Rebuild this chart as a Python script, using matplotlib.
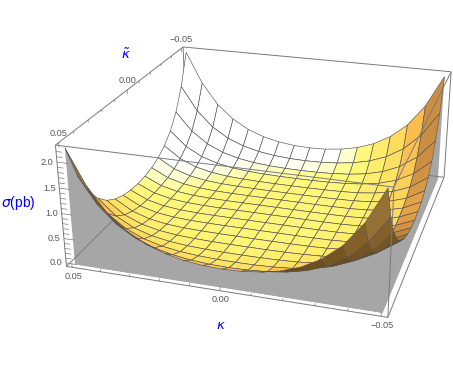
import numpy as np
import matplotlib
matplotlib.use('Agg')
import matplotlib.pyplot as plt
from mpl_toolkits.mplot3d import proj3d
from mpl_toolkits.mplot3d.art3d import Poly3DCollection

W, H = 453, 371
plt.rcParams['font.family'] = ['Liberation Sans', 'DejaVu Sans']
plt.rcParams['mathtext.fontset'] = 'dejavusans'

kappa_quarter = [0.00, 0.00625, 0.0125, 0.01875, 0.025, 0.03125, 0.0375, 0.04375, 0.05]
sigma_quarter = [
 [0.000,0.000,0.000,0.000,0.005,0.020,0.057,0.138,0.300],
 [0.000,0.000,0.000,0.001,0.006,0.022,0.061,0.147,0.314],
 [0.000,0.000,0.000,0.003,0.010,0.030,0.077,0.174,0.358],
 [0.000,0.001,0.003,0.008,0.020,0.048,0.108,0.226,0.439],
 [0.005,0.006,0.010,0.020,0.040,0.083,0.164,0.314,0.573],
 [0.020,0.022,0.030,0.048,0.083,0.147,0.261,0.457,0.781],
 [0.057,0.061,0.077,0.108,0.164,0.261,0.422,0.683,1.090],
 [0.138,0.147,0.174,0.226,0.314,0.457,0.683,1.030,1.560],
 [0.300,0.314,0.358,0.439,0.573,0.781,1.090,1.560,2.240],
]
ticks_k = [0.05, 0.00, -0.05]
ticks_z = [0.0, 0.5, 1.0, 1.5, 2.0]
xlo, xhi = -0.052, 0.052
zlo, zhi = -0.07, 2.32

fig = plt.figure(figsize=(W/100, H/100), dpi=100)
ax = fig.add_axes([0, 0, H/W, 1], projection='3d')
ax.set_xlim(xlo, xhi); ax.set_ylim(xlo, xhi); ax.set_zlim(zlo, zhi)
ax.set_axis_off()
ax.computed_zorder = False

pts3 = np.array([[xhi,xhi,zlo],[xhi,xhi,zhi],[xlo,xhi,zlo],[xlo,xhi,zhi],[xlo,xlo,zlo],[xlo,xlo,zhi],[xhi,xlo,zhi]]).T
pix = np.array([[66,266],[56,145],[390,318],[392,187],[443,177],[452,72],[183,47]],float)

p = np.array([23.475, 107.538, 0.230, 0.451, 0.402])
ax.view_init(p[0], p[1], p[2])
ax.set_proj_type('persp', focal_length=p[3])
ax.set_box_aspect((1,1,p[4]))

# place the axes so the box corners land where they do in the picture
xs, ys, _ = proj3d.proj_transform(pts3[0], pts3[1], pts3[2], ax.get_proj())
n = len(xs)
A = np.zeros((2*n,3)); b = np.zeros(2*n)
A[:n,0] = 1; A[:n,2] = xs; b[:n] = pix[:,0]
A[n:,1] = 1; A[n:,2] = -ys; b[n:] = pix[:,1]
a0, b0, s = np.linalg.lstsq(A, b, rcond=None)[0]
ax.apply_aspect()
p0, p1 = ax.transData.transform([[0,0],[1,1]])
bb = ax.bbox
ux = bb.width/(p1[0]-p0[0]); uy = bb.height/(p1[1]-p0[1])
fx = (p0[0]-bb.x0)/bb.width; fy = (p0[1]-bb.y0)/bb.height
wid = s*ux; hei = s*uy
ax.set_position([(a0-fx*wid)/W, ((H-b0)-fy*hei)/H, wid/W, hei/H])
ax.apply_aspect()

half = np.array(kappa_quarter)
grid = np.concatenate([half[::-1], -half[1:]])          # +0.05 ... -0.05
q = np.array(sigma_quarter)
Z = np.vstack([np.hstack([q[::-1,::-1], q[::-1,1:]]), np.hstack([q[1:,::-1], q[1:,1:]])])
K, T = np.meshgrid(grid, grid, indexing='ij')

# colours
ba = np.array(ax._box_aspect)
def box(x,y,z):
    return np.stack([(x-xlo)/(xhi-xlo)*ba[0], (y-xlo)/(xhi-xlo)*ba[1], (z-zlo)/(zhi-zlo)*ba[2]], -1)
V = box(K,T,Z)
d1 = V[1:,1:]-V[:-1,:-1]; d2 = V[:-1,1:]-V[1:,:-1]
N = np.cross(d2, d1)
N = N*np.sign(N[...,2:3]+1e-12)
N = N/np.linalg.norm(N,axis=-1,keepdims=True)
C = (V[1:,1:]+V[:-1,:-1]+V[:-1,1:]+V[1:,:-1])/4
el, az = np.radians(p[0]), np.radians(p[1])
ps = np.array([np.cos(el)*np.cos(az), np.cos(el)*np.sin(az), np.sin(el)])
eye = ba/2 + 10*p[3]*ps
up = ((eye-C)*N).sum(-1) > 0
L = np.array([-0.2,0.8,0.55])
sh = (N*L).sum(-1) - np.clip(N[...,0],0,None)
nodes = [-0.3,0.0,0.1,0.2,0.35,0.5,0.6,0.66,0.74]
cols = np.array([(150,105,45),(215,150,70),(254,185,75),(255,208,85),(255,228,100),(255,240,112),(255,252,130),(255,255,205),(255,255,255)])/255
F = np.zeros(sh.shape+(4,)); F[...,3] = 1
for i in range(3):
    F[...,i] = np.interp(sh, nodes, cols[:,i])
zc = (Z[1:,1:]+Z[:-1,:-1]+Z[:-1,1:]+Z[1:,:-1])/4
u = np.clip(zc/2.25,0,1)[...,None]
brown = np.array([90,60,15])/255*(1-u)+np.array([175,135,70])/255*u
F[...,:3] = np.where(up[...,None], F[...,:3], brown)

GR = (0.48,0.48,0.48)
def seg(x,y,z,zo=1,lw=0.7,c=GR):
    ax.plot(x,y,z,color=c,lw=lw,zorder=zo,solid_capstyle='butt')

# curtains
front = [(k,0.05,z) for k,z in zip(grid, Z[:,-1])] + [(-0.05,0.05,zlo),(0.05,0.05,zlo)]
right = [(-0.05,t,z) for t,z in zip(grid, Z[-1,:])] + [(-0.05,-0.05,zlo),(-0.05,0.05,zlo)]
base = [(0.05,0.05,zlo),(-0.05,0.05,zlo),(-0.05,-0.05,zlo)]
ax.add_collection3d(Poly3DCollection([front,right,base],facecolors='#a6a6a6',edgecolors='none',zorder=2))

# back edges
seg([xhi,xhi],[xlo,xhi],[zlo,zlo],3)
seg([xhi,xlo],[xlo,xlo],[zlo,zlo],3)
seg([xhi,xhi],[xlo,xlo],[zlo,zhi],3)
seg([xhi,xhi],[xlo,xhi],[zhi,zhi],3)
seg([xhi,xlo],[xlo,xlo],[zhi,zhi],3)
seg([xlo,xlo],[xlo,xlo],[zlo,zhi],3)

ax.plot_surface(K,T,Z,facecolors=F,rstride=1,cstride=1,shade=False,edgecolor=(0.33,0.33,0.33),linewidth=0.45,antialiased=True,zorder=5)

# front edges
seg([xhi,xlo],[xhi,xhi],[zlo,zlo],8)
seg([xlo,xlo],[xhi,xlo],[zlo,zlo],8)
seg([xhi,xlo],[xhi,xhi],[zhi,zhi],8)
seg([xlo,xlo],[xhi,xlo],[zhi,zhi],8)
seg([xhi,xhi],[xhi,xhi],[zlo,zhi],8)
seg([xlo,xlo],[xhi,xhi],[zlo,zhi],8)

M = ax.get_proj()
def topix(x,y,z):
    xx,yy,_ = proj3d.proj_transform(x,y,z,M)
    return ax.transData.transform((xx,yy))
def label(x,y,z,dx,dy,s_):
    pt = topix(x,y,z)
    fig.text((pt[0]+dx)/W,(pt[1]-dy)/H,s_,fontsize=6.6,color=(0.35,0.35,0.35),ha='center',va='center')

for t in ticks_k:
    txt = f'{t:.2f}'.replace('-','\u2212')
    label(t,xhi,zlo,1,9,txt)
    label(xhi,t,zhi,0,-9,txt)
for t in ticks_z:
    label(xhi,xhi,t,-10,0,f'{t:.1f}')
for t in np.arange(-5,6)/100:
    ln = 0.09 if abs(t) in (0.05,0.0) else 0.05
    seg([t,t],[xhi,xhi],[zlo,zlo+ln],8,0.5)
    seg([xhi,xhi],[t,t],[zhi,zhi-ln],8,0.5)
for t in np.arange(0,23)/10:
    ln = 0.0035 if round(t*10)%5==0 else 0.002
    seg([xhi,xhi-ln],[xhi,xhi],[t,t],8,0.5)

BL = (0,0,1)
fig.text(221/W,1-326/H,r'$\kappa$',color=BL,fontsize=9.5,ha='center',va='center')
fig.text(126/W,1-55/H,r'$\tilde{\kappa}$',color=BL,fontsize=9.5,ha='center',va='center')
fig.text(18/W,1-203/H,r'$\sigma$(pb)',color=BL,fontsize=10,ha='center',va='center')
fig.savefig('out.png',dpi=100)
